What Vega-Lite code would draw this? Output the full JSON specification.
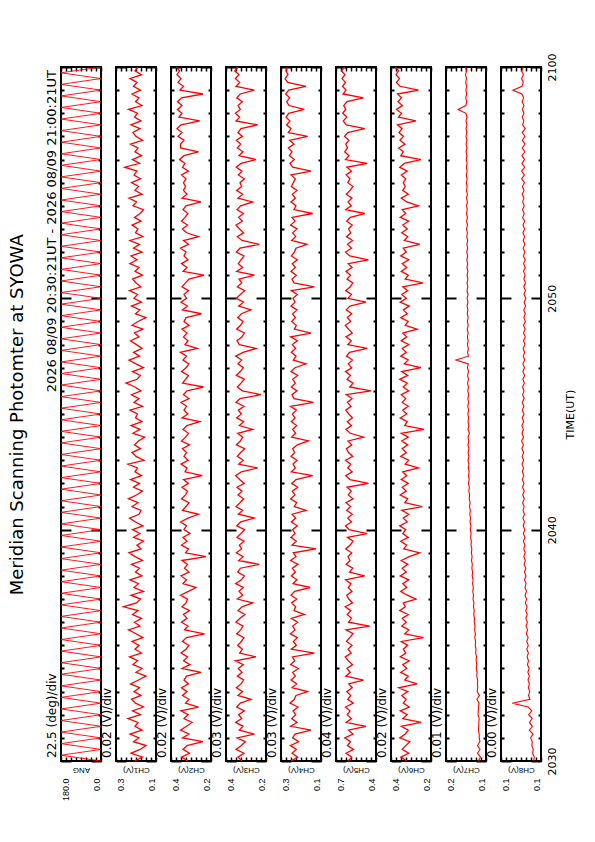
{
"$schema": "https://vega.github.io/schema/vega-lite/v6.json",
"background": "white",
"padding": {"left": 8, "top": 52, "right": 5, "bottom": 5},
"title": {"text": "Meridian Scanning Photomter at SYOWA", "orient": "left", "anchor": "middle", "font": "DejaVu Sans", "fontSize": 18, "fontWeight": "normal", "color": "black", "offset": 18, "dx": 12},
"bounds": "flush",
"spacing": 15,
"datasets": {
"ang": [{"s":0,"a":0},{"s":15,"a":180},{"s":30,"a":0},{"s":45,"a":180},{"s":60,"a":0},{"s":75,"a":180},{"s":90,"a":0},{"s":105,"a":180},{"s":120,"a":0},{"s":135,"a":180},{"s":150,"a":0},{"s":165,"a":180},{"s":180,"a":0},{"s":195,"a":180},{"s":210,"a":0},{"s":225,"a":180},{"s":240,"a":0},{"s":255,"a":180},{"s":270,"a":0},{"s":285,"a":180},{"s":300,"a":0},{"s":315,"a":180},{"s":330,"a":0},{"s":345,"a":180},{"s":360,"a":0},{"s":375,"a":180},{"s":390,"a":0},{"s":405,"a":180},{"s":420,"a":0},{"s":435,"a":180},{"s":450,"a":0},{"s":465,"a":180},{"s":480,"a":0},{"s":495,"a":180},{"s":510,"a":0},{"s":525,"a":180},{"s":540,"a":0},{"s":555,"a":180},{"s":570,"a":0},{"s":585,"a":180},{"s":600,"a":0},{"s":615,"a":180},{"s":630,"a":0},{"s":645,"a":180},{"s":660,"a":0},{"s":675,"a":180},{"s":690,"a":0},{"s":705,"a":180},{"s":720,"a":0},{"s":735,"a":180},{"s":750,"a":0},{"s":765,"a":180},{"s":780,"a":0},{"s":795,"a":180},{"s":810,"a":0},{"s":825,"a":180},{"s":840,"a":0},{"s":855,"a":180},{"s":870,"a":0},{"s":885,"a":180},{"s":900,"a":0},{"s":915,"a":180},{"s":930,"a":0},{"s":945,"a":180},{"s":960,"a":0},{"s":975,"a":180},{"s":990,"a":0},{"s":1005,"a":180},{"s":1020,"a":0},{"s":1035,"a":180},{"s":1050,"a":0},{"s":1065,"a":180},{"s":1080,"a":0},{"s":1095,"a":180},{"s":1110,"a":0},{"s":1125,"a":180},{"s":1140,"a":0},{"s":1155,"a":180},{"s":1170,"a":0},{"s":1185,"a":180},{"s":1200,"a":0},{"s":1215,"a":180},{"s":1230,"a":0},{"s":1245,"a":180},{"s":1260,"a":0},{"s":1275,"a":180},{"s":1290,"a":0},{"s":1305,"a":180},{"s":1320,"a":0},{"s":1335,"a":180},{"s":1350,"a":0},{"s":1365,"a":180},{"s":1380,"a":0},{"s":1395,"a":180},{"s":1410,"a":0},{"s":1425,"a":180},{"s":1440,"a":0},{"s":1455,"a":180},{"s":1470,"a":0},{"s":1485,"a":180},{"s":1500,"a":0},{"s":1515,"a":180},{"s":1530,"a":0},{"s":1545,"a":180},{"s":1560,"a":0},{"s":1575,"a":180},{"s":1590,"a":0},{"s":1605,"a":180},{"s":1620,"a":0},{"s":1635,"a":180},{"s":1650,"a":0},{"s":1665,"a":180},{"s":1680,"a":0},{"s":1695,"a":180},{"s":1710,"a":0},{"s":1725,"a":180},{"s":1740,"a":0},{"s":1755,"a":180},{"s":1770,"a":0},{"s":1785,"a":180},{"s":1800,"a":0}],
"ch": [
{"s":0,"c1":0.186,"c2":0.292,"c3":0.344,"c4":0.278,"c5":0.624,"c6":0.297,"c7":0.1155,"c8":0.1058},
{"s":10,"c1":0.154,"c2":0.318,"c3":0.368,"c4":0.240,"c5":0.594,"c6":0.321,"c7":0.1110,"c8":0.1054},
{"s":20,"c1":0.200,"c2":0.286,"c3":0.332,"c4":0.274,"c5":0.640,"c6":0.289,"c7":0.1170,"c8":0.1068},
{"s":30,"c1":0.164,"c2":0.312,"c3":0.380,"c4":0.248,"c5":0.580,"c6":0.315,"c7":0.1119,"c8":0.1062},
{"s":40,"c1":0.140,"c2":0.296,"c3":0.348,"c4":0.284,"c5":0.628,"c6":0.301,"c7":0.1170,"c8":0.1073},
{"s":50,"c1":0.190,"c2":0.232,"c3":0.324,"c4":0.234,"c5":0.604,"c6":0.285,"c7":0.1122,"c8":0.1070},
{"s":60,"c1":0.168,"c2":0.314,"c3":0.374,"c4":0.270,"c5":0.650,"c6":0.325,"c7":0.1135,"c8":0.1083},
{"s":70,"c1":0.204,"c2":0.288,"c3":0.270,"c4":0.256,"c5":0.584,"c6":0.303,"c7":0.1136,"c8":0.1063},
{"s":80,"c1":0.156,"c2":0.322,"c3":0.360,"c4":0.160,"c5":0.620,"c6":0.291,"c7":0.1152,"c8":0.1093},
{"s":90,"c1":0.184,"c2":0.298,"c3":0.338,"c4":0.282,"c5":0.480,"c6":0.319,"c7":0.1145,"c8":0.1069},
{"s":100,"c1":0.172,"c2":0.276,"c3":0.382,"c4":0.244,"c5":0.638,"c6":0.240,"c7":0.1144,"c8":0.1092},
{"s":110,"c1":0.212,"c2":0.308,"c3":0.346,"c4":0.276,"c5":0.596,"c6":0.313,"c7":0.1136,"c8":0.1070},
{"s":120,"c1":0.162,"c2":0.292,"c3":0.364,"c4":0.252,"c5":0.630,"c6":0.295,"c7":0.1159,"c8":0.1099},
{"s":130,"c1":0.194,"c2":0.320,"c3":0.330,"c4":0.268,"c5":0.608,"c6":0.323,"c7":0.1154,"c8":0.1074},
{"s":140,"c1":0.150,"c2":0.250,"c3":0.376,"c4":0.238,"c5":0.644,"c6":0.287,"c7":0.1150,"c8":0.1102},
{"s":150,"c1":0.182,"c2":0.302,"c3":0.354,"c4":0.286,"c5":0.582,"c6":0.311,"c7":0.1140,"c8":0.1230},
{"s":160,"c1":0.198,"c2":0.288,"c3":0.290,"c4":0.260,"c5":0.626,"c6":0.299,"c7":0.1181,"c8":0.1089},
{"s":170,"c1":0.160,"c2":0.314,"c3":0.368,"c4":0.250,"c5":0.602,"c6":0.317,"c7":0.1130,"c8":0.1100},
{"s":180,"c1":0.188,"c2":0.296,"c3":0.340,"c4":0.180,"c5":0.634,"c6":0.293,"c7":0.1176,"c8":0.1090},
{"s":190,"c1":0.166,"c2":0.318,"c3":0.378,"c4":0.274,"c5":0.590,"c6":0.329,"c7":0.1166,"c8":0.1101},
{"s":200,"c1":0.202,"c2":0.290,"c3":0.350,"c4":0.246,"c5":0.618,"c6":0.255,"c7":0.1170,"c8":0.1093},
{"s":210,"c1":0.170,"c2":0.308,"c3":0.334,"c4":0.280,"c5":0.500,"c6":0.305,"c7":0.1168,"c8":0.1104},
{"s":220,"c1":0.140,"c2":0.298,"c3":0.372,"c4":0.254,"c5":0.642,"c6":0.291,"c7":0.1184,"c8":0.1093},
{"s":230,"c1":0.180,"c2":0.240,"c3":0.344,"c4":0.270,"c5":0.606,"c6":0.321,"c7":0.1179,"c8":0.1105},
{"s":240,"c1":0.156,"c2":0.316,"c3":0.366,"c4":0.236,"c5":0.632,"c6":0.297,"c7":0.1193,"c8":0.1095},
{"s":250,"c1":0.192,"c2":0.284,"c3":0.336,"c4":0.282,"c5":0.588,"c6":0.313,"c7":0.1184,"c8":0.1108},
{"s":260,"c1":0.174,"c2":0.310,"c3":0.384,"c4":0.258,"c5":0.622,"c6":0.287,"c7":0.1197,"c8":0.1100},
{"s":270,"c1":0.206,"c2":0.294,"c3":0.260,"c4":0.272,"c5":0.646,"c6":0.323,"c7":0.1190,"c8":0.1111},
{"s":280,"c1":0.158,"c2":0.320,"c3":0.358,"c4":0.140,"c5":0.598,"c6":0.301,"c7":0.1206,"c8":0.1101},
{"s":290,"c1":0.184,"c2":0.300,"c3":0.342,"c4":0.278,"c5":0.624,"c6":0.311,"c7":0.1200,"c8":0.1113},
{"s":300,"c1":0.168,"c2":0.288,"c3":0.370,"c4":0.248,"c5":0.592,"c6":0.293,"c7":0.1215,"c8":0.1102},
{"s":310,"c1":0.196,"c2":0.314,"c3":0.348,"c4":0.266,"c5":0.636,"c6":0.319,"c7":0.1208,"c8":0.1114},
{"s":320,"c1":0.152,"c2":0.298,"c3":0.332,"c4":0.242,"c5":0.610,"c6":0.230,"c7":0.1224,"c8":0.1103},
{"s":330,"c1":0.180,"c2":0.226,"c3":0.376,"c4":0.284,"c5":0.584,"c6":0.305,"c7":0.1213,"c8":0.1117},
{"s":340,"c1":0.210,"c2":0.306,"c3":0.352,"c4":0.256,"c5":0.640,"c6":0.289,"c7":0.1228,"c8":0.1108},
{"s":350,"c1":0.164,"c2":0.292,"c3":0.338,"c4":0.270,"c5":0.450,"c6":0.317,"c7":0.1219,"c8":0.1120},
{"s":360,"c1":0.186,"c2":0.318,"c3":0.380,"c4":0.240,"c5":0.620,"c6":0.299,"c7":0.1236,"c8":0.1109},
{"s":370,"c1":0.158,"c2":0.296,"c3":0.356,"c4":0.278,"c5":0.596,"c6":0.315,"c7":0.1230,"c8":0.1121},
{"s":380,"c1":0.194,"c2":0.310,"c3":0.326,"c4":0.200,"c5":0.630,"c6":0.291,"c7":0.1246,"c8":0.1110},
{"s":390,"c1":0.172,"c2":0.286,"c3":0.368,"c4":0.262,"c5":0.602,"c6":0.325,"c7":0.1235,"c8":0.1122},
{"s":400,"c1":0.230,"c2":0.316,"c3":0.344,"c4":0.252,"c5":0.646,"c6":0.303,"c7":0.1251,"c8":0.1111},
{"s":410,"c1":0.178,"c2":0.300,"c3":0.280,"c4":0.276,"c5":0.588,"c6":0.311,"c7":0.1241,"c8":0.1125},
{"s":420,"c1":0.162,"c2":0.294,"c3":0.372,"c4":0.246,"c5":0.618,"c6":0.260,"c7":0.1259,"c8":0.1115},
{"s":430,"c1":0.200,"c2":0.322,"c3":0.340,"c4":0.280,"c5":0.634,"c6":0.295,"c7":0.1250,"c8":0.1128},
{"s":440,"c1":0.150,"c2":0.290,"c3":0.362,"c4":0.258,"c5":0.592,"c6":0.321,"c7":0.1264,"c8":0.1116},
{"s":450,"c1":0.188,"c2":0.260,"c3":0.336,"c4":0.165,"c5":0.622,"c6":0.297,"c7":0.1253,"c8":0.1128},
{"s":460,"c1":0.170,"c2":0.312,"c3":0.382,"c4":0.268,"c5":0.600,"c6":0.313,"c7":0.1269,"c8":0.1120},
{"s":470,"c1":0.204,"c2":0.298,"c3":0.348,"c4":0.244,"c5":0.644,"c6":0.289,"c7":0.1258,"c8":0.1132},
{"s":480,"c1":0.156,"c2":0.320,"c3":0.330,"c4":0.278,"c5":0.490,"c6":0.323,"c7":0.1276,"c8":0.1120},
{"s":490,"c1":0.182,"c2":0.288,"c3":0.370,"c4":0.254,"c5":0.612,"c6":0.299,"c7":0.1268,"c8":0.1132},
{"s":500,"c1":0.166,"c2":0.306,"c3":0.354,"c4":0.272,"c5":0.586,"c6":0.315,"c7":0.1283,"c8":0.1121},
{"s":510,"c1":0.198,"c2":0.294,"c3":0.240,"c4":0.238,"c5":0.638,"c6":0.293,"c7":0.1273,"c8":0.1135},
{"s":520,"c1":0.154,"c2":0.316,"c3":0.364,"c4":0.282,"c5":0.608,"c6":0.319,"c7":0.1290,"c8":0.1125},
{"s":530,"c1":0.184,"c2":0.220,"c3":0.338,"c4":0.250,"c5":0.624,"c6":0.287,"c7":0.1278,"c8":0.1138},
{"s":540,"c1":0.208,"c2":0.302,"c3":0.378,"c4":0.266,"c5":0.594,"c6":0.245,"c7":0.1292,"c8":0.1126},
{"s":550,"c1":0.160,"c2":0.290,"c3":0.346,"c4":0.130,"c5":0.642,"c6":0.309,"c7":0.1283,"c8":0.1138},
{"s":560,"c1":0.176,"c2":0.318,"c3":0.360,"c4":0.274,"c5":0.606,"c6":0.297,"c7":0.1300,"c8":0.1129},
{"s":570,"c1":0.150,"c2":0.296,"c3":0.332,"c4":0.248,"c5":0.584,"c6":0.321,"c7":0.1293,"c8":0.1141},
{"s":580,"c1":0.190,"c2":0.312,"c3":0.374,"c4":0.280,"c5":0.628,"c6":0.291,"c7":0.1309,"c8":0.1129},
{"s":590,"c1":0.164,"c2":0.284,"c3":0.350,"c4":0.256,"c5":0.470,"c6":0.313,"c7":0.1297,"c8":0.1141},
{"s":600,"c1":0.194,"c2":0.308,"c3":0.328,"c4":0.270,"c5":0.616,"c6":0.301,"c7":0.1313,"c8":0.1129},
{"s":610,"c1":0.152,"c2":0.298,"c3":0.376,"c4":0.242,"c5":0.644,"c6":0.325,"c7":0.1302,"c8":0.1143},
{"s":620,"c1":0.182,"c2":0.322,"c3":0.352,"c4":0.278,"c5":0.596,"c6":0.295,"c7":0.1320,"c8":0.1132},
{"s":630,"c1":0.206,"c2":0.292,"c3":0.270,"c4":0.252,"c5":0.626,"c6":0.311,"c7":0.1310,"c8":0.1145},
{"s":640,"c1":0.168,"c2":0.250,"c3":0.366,"c4":0.274,"c5":0.590,"c6":0.289,"c7":0.1324,"c8":0.1132},
{"s":650,"c1":0.160,"c2":0.314,"c3":0.340,"c4":0.190,"c5":0.634,"c6":0.317,"c7":0.1313,"c8":0.1144},
{"s":660,"c1":0.196,"c2":0.300,"c3":0.380,"c4":0.260,"c5":0.604,"c6":0.235,"c7":0.1329,"c8":0.1135},
{"s":670,"c1":0.172,"c2":0.288,"c3":0.356,"c4":0.246,"c5":0.640,"c6":0.305,"c7":0.1318,"c8":0.1147},
{"s":680,"c1":0.210,"c2":0.318,"c3":0.334,"c4":0.282,"c5":0.584,"c6":0.293,"c7":0.1336,"c8":0.1134},
{"s":690,"c1":0.178,"c2":0.302,"c3":0.368,"c4":0.256,"c5":0.622,"c6":0.323,"c7":0.1328,"c8":0.1146},
{"s":700,"c1":0.154,"c2":0.294,"c3":0.344,"c4":0.272,"c5":0.598,"c6":0.299,"c7":0.1343,"c8":0.1134},
{"s":710,"c1":0.190,"c2":0.316,"c3":0.374,"c4":0.240,"c5":0.632,"c6":0.315,"c7":0.1333,"c8":0.1148},
{"s":720,"c1":0.166,"c2":0.290,"c3":0.330,"c4":0.276,"c5":0.460,"c6":0.291,"c7":0.1350,"c8":0.1137},
{"s":730,"c1":0.202,"c2":0.310,"c3":0.358,"c4":0.250,"c5":0.608,"c6":0.319,"c7":0.1336,"c8":0.1150},
{"s":740,"c1":0.158,"c2":0.235,"c3":0.382,"c4":0.150,"c5":0.642,"c6":0.297,"c7":0.1350,"c8":0.1137},
{"s":750,"c1":0.184,"c2":0.304,"c3":0.348,"c4":0.278,"c5":0.590,"c6":0.313,"c7":0.1337,"c8":0.1149},
{"s":760,"c1":0.174,"c2":0.296,"c3":0.250,"c4":0.254,"c5":0.626,"c6":0.250,"c7":0.1354,"c8":0.1140},
{"s":770,"c1":0.212,"c2":0.320,"c3":0.364,"c4":0.268,"c5":0.602,"c6":0.303,"c7":0.1343,"c8":0.1152},
{"s":780,"c1":0.148,"c2":0.292,"c3":0.336,"c4":0.244,"c5":0.644,"c6":0.289,"c7":0.1359,"c8":0.1139},
{"s":790,"c1":0.180,"c2":0.308,"c3":0.372,"c4":0.280,"c5":0.586,"c6":0.321,"c7":0.1342,"c8":0.1151},
{"s":800,"c1":0.196,"c2":0.298,"c3":0.352,"c4":0.258,"c5":0.620,"c6":0.299,"c7":0.1358,"c8":0.1138},
{"s":810,"c1":0.162,"c2":0.314,"c3":0.328,"c4":0.270,"c5":0.636,"c6":0.315,"c7":0.1342,"c8":0.1153},
{"s":820,"c1":0.186,"c2":0.286,"c3":0.378,"c4":0.242,"c5":0.594,"c6":0.293,"c7":0.1360,"c8":0.1141},
{"s":830,"c1":0.170,"c2":0.318,"c3":0.354,"c4":0.175,"c5":0.624,"c6":0.317,"c7":0.1345,"c8":0.1155},
{"s":840,"c1":0.145,"c2":0.302,"c3":0.340,"c4":0.276,"c5":0.499,"c6":0.291,"c7":0.1359,"c8":0.1140},
{"s":850,"c1":0.192,"c2":0.290,"c3":0.370,"c4":0.252,"c5":0.606,"c6":0.319,"c7":0.1331,"c8":0.1152},
{"s":860,"c1":0.164,"c2":0.312,"c3":0.280,"c4":0.270,"c5":0.640,"c6":0.228,"c7":0.1359,"c8":0.1141},
{"s":870,"c1":0.200,"c2":0.296,"c3":0.360,"c4":0.246,"c5":0.596,"c6":0.305,"c7":0.1342,"c8":0.1153},
{"s":880,"c1":0.156,"c2":0.245,"c3":0.334,"c4":0.278,"c5":0.630,"c6":0.295,"c7":0.1361,"c8":0.1138},
{"s":890,"c1":0.182,"c2":0.316,"c3":0.376,"c4":0.256,"c5":0.588,"c6":0.323,"c7":0.1347,"c8":0.1150},
{"s":900,"c1":0.174,"c2":0.292,"c3":0.348,"c4":0.272,"c5":0.618,"c6":0.297,"c7":0.1363,"c8":0.1136},
{"s":910,"c1":0.204,"c2":0.308,"c3":0.366,"c4":0.248,"c5":0.642,"c6":0.313,"c7":0.1347,"c8":0.1150},
{"s":920,"c1":0.154,"c2":0.298,"c3":0.332,"c4":0.282,"c5":0.600,"c6":0.291,"c7":0.1365,"c8":0.1137},
{"s":930,"c1":0.188,"c2":0.320,"c3":0.380,"c4":0.145,"c5":0.628,"c6":0.315,"c7":0.1347,"c8":0.1150},
{"s":940,"c1":0.168,"c2":0.288,"c3":0.356,"c4":0.262,"c5":0.592,"c6":0.301,"c7":0.1362,"c8":0.1135},
{"s":950,"c1":0.198,"c2":0.310,"c3":0.230,"c4":0.274,"c5":0.638,"c6":0.319,"c7":0.1347,"c8":0.1147},
{"s":960,"c1":0.160,"c2":0.296,"c3":0.342,"c4":0.244,"c5":0.440,"c6":0.289,"c7":0.1365,"c8":0.1136},
{"s":970,"c1":0.184,"c2":0.230,"c3":0.372,"c4":0.278,"c5":0.610,"c6":0.311,"c7":0.1352,"c8":0.1148},
{"s":980,"c1":0.220,"c2":0.314,"c3":0.350,"c4":0.254,"c5":0.584,"c6":0.295,"c7":0.1369,"c8":0.1133},
{"s":990,"c1":0.176,"c2":0.302,"c3":0.330,"c4":0.270,"c5":0.632,"c6":0.325,"c7":0.1351,"c8":0.1145},
{"s":1000,"c1":0.162,"c2":0.290,"c3":0.378,"c4":0.240,"c5":0.604,"c6":0.293,"c7":0.1368,"c8":0.1131},
{"s":1010,"c1":0.194,"c2":0.318,"c3":0.354,"c4":0.280,"c5":0.644,"c6":0.317,"c7":0.1351,"c8":0.1145},
{"s":1020,"c1":0.150,"c2":0.300,"c3":0.336,"c4":0.256,"c5":0.594,"c6":0.240,"c7":0.1370,"c8":0.1132},
{"s":1030,"c1":0.180,"c2":0.288,"c3":0.368,"c4":0.190,"c5":0.622,"c6":0.307,"c7":0.1354,"c8":0.1145},
{"s":1040,"c1":0.208,"c2":0.312,"c3":0.346,"c4":0.266,"c5":0.588,"c6":0.291,"c7":0.1600,"c8":0.1130},
{"s":1050,"c1":0.166,"c2":0.298,"c3":0.382,"c4":0.250,"c5":0.636,"c6":0.321,"c7":0.1352,"c8":0.1142},
{"s":1060,"c1":0.190,"c2":0.322,"c3":0.338,"c4":0.278,"c5":0.612,"c6":0.299,"c7":0.1369,"c8":0.1131},
{"s":1070,"c1":0.156,"c2":0.255,"c3":0.260,"c4":0.252,"c5":0.470,"c6":0.315,"c7":0.1352,"c8":0.1143},
{"s":1080,"c1":0.178,"c2":0.304,"c3":0.360,"c4":0.272,"c5":0.626,"c6":0.289,"c7":0.1371,"c8":0.1128},
{"s":1090,"c1":0.202,"c2":0.292,"c3":0.374,"c4":0.242,"c5":0.598,"c6":0.319,"c7":0.1357,"c8":0.1140},
{"s":1100,"c1":0.168,"c2":0.310,"c3":0.344,"c4":0.282,"c5":0.640,"c6":0.297,"c7":0.1373,"c8":0.1126},
{"s":1110,"c1":0.186,"c2":0.296,"c3":0.330,"c4":0.160,"c5":0.590,"c6":0.313,"c7":0.1357,"c8":0.1140},
{"s":1120,"c1":0.152,"c2":0.316,"c3":0.376,"c4":0.260,"c5":0.620,"c6":0.255,"c7":0.1375,"c8":0.1127},
{"s":1130,"c1":0.196,"c2":0.288,"c3":0.352,"c4":0.248,"c5":0.646,"c6":0.303,"c7":0.1357,"c8":0.1140},
{"s":1140,"c1":0.172,"c2":0.308,"c3":0.338,"c4":0.276,"c5":0.602,"c6":0.291,"c7":0.1372,"c8":0.1125},
{"s":1150,"c1":0.140,"c2":0.300,"c3":0.370,"c4":0.254,"c5":0.630,"c6":0.321,"c7":0.1357,"c8":0.1137},
{"s":1160,"c1":0.182,"c2":0.238,"c3":0.348,"c4":0.270,"c5":0.594,"c6":0.295,"c7":0.1375,"c8":0.1126},
{"s":1170,"c1":0.164,"c2":0.314,"c3":0.290,"c4":0.244,"c5":0.638,"c6":0.311,"c7":0.1362,"c8":0.1138},
{"s":1180,"c1":0.198,"c2":0.294,"c3":0.364,"c4":0.280,"c5":0.608,"c6":0.287,"c7":0.1379,"c8":0.1123},
{"s":1190,"c1":0.158,"c2":0.320,"c3":0.334,"c4":0.256,"c5":0.480,"c6":0.323,"c7":0.1361,"c8":0.1135},
{"s":1200,"c1":0.188,"c2":0.298,"c3":0.378,"c4":0.268,"c5":0.624,"c6":0.299,"c7":0.1378,"c8":0.1121},
{"s":1210,"c1":0.174,"c2":0.308,"c3":0.354,"c4":0.242,"c5":0.596,"c6":0.317,"c7":0.1361,"c8":0.1136},
{"s":1220,"c1":0.206,"c2":0.290,"c3":0.328,"c4":0.278,"c5":0.642,"c6":0.293,"c7":0.1380,"c8":0.1124},
{"s":1230,"c1":0.160,"c2":0.316,"c3":0.372,"c4":0.140,"c5":0.606,"c6":0.313,"c7":0.1364,"c8":0.1138},
{"s":1240,"c1":0.180,"c2":0.302,"c3":0.346,"c4":0.262,"c5":0.586,"c6":0.232,"c7":0.1379,"c8":0.1124},
{"s":1250,"c1":0.194,"c2":0.288,"c3":0.362,"c4":0.274,"c5":0.632,"c6":0.303,"c7":0.1362,"c8":0.1137},
{"s":1260,"c1":0.154,"c2":0.228,"c3":0.270,"c4":0.248,"c5":0.604,"c6":0.291,"c7":0.1379,"c8":0.1127},
{"s":1270,"c1":0.184,"c2":0.312,"c3":0.376,"c4":0.280,"c5":0.640,"c6":0.319,"c7":0.1362,"c8":0.1140},
{"s":1280,"c1":0.168,"c2":0.296,"c3":0.340,"c4":0.254,"c5":0.592,"c6":0.297,"c7":0.1381,"c8":0.1126},
{"s":1290,"c1":0.205,"c2":0.318,"c3":0.366,"c4":0.272,"c5":0.622,"c6":0.315,"c7":0.1367,"c8":0.1139},
{"s":1300,"c1":0.176,"c2":0.292,"c3":0.350,"c4":0.242,"c5":0.460,"c6":0.289,"c7":0.1383,"c8":0.1126},
{"s":1310,"c1":0.200,"c2":0.308,"c3":0.332,"c4":0.278,"c5":0.610,"c6":0.321,"c7":0.1367,"c8":0.1141},
{"s":1320,"c1":0.156,"c2":0.300,"c3":0.378,"c4":0.260,"c5":0.644,"c6":0.299,"c7":0.1385,"c8":0.1129},
{"s":1330,"c1":0.190,"c2":0.322,"c3":0.356,"c4":0.250,"c5":0.596,"c6":0.311,"c7":0.1367,"c8":0.1143},
{"s":1340,"c1":0.166,"c2":0.290,"c3":0.240,"c4":0.185,"c5":0.628,"c6":0.245,"c7":0.1382,"c8":0.1129},
{"s":1350,"c1":0.204,"c2":0.310,"c3":0.344,"c4":0.276,"c5":0.588,"c6":0.307,"c7":0.1367,"c8":0.1142},
{"s":1360,"c1":0.152,"c2":0.250,"c3":0.372,"c4":0.252,"c5":0.636,"c6":0.293,"c7":0.1385,"c8":0.1132},
{"s":1370,"c1":0.182,"c2":0.298,"c3":0.334,"c4":0.270,"c5":0.602,"c6":0.317,"c7":0.1372,"c8":0.1145},
{"s":1380,"c1":0.172,"c2":0.314,"c3":0.358,"c4":0.244,"c5":0.620,"c6":0.295,"c7":0.1389,"c8":0.1131},
{"s":1390,"c1":0.196,"c2":0.294,"c3":0.380,"c4":0.282,"c5":0.590,"c6":0.313,"c7":0.1371,"c8":0.1144},
{"s":1400,"c1":0.160,"c2":0.318,"c3":0.342,"c4":0.256,"c5":0.634,"c6":0.289,"c7":0.1388,"c8":0.1131},
{"s":1410,"c1":0.186,"c2":0.304,"c3":0.364,"c4":0.274,"c5":0.606,"c6":0.323,"c7":0.1371,"c8":0.1146},
{"s":1420,"c1":0.164,"c2":0.292,"c3":0.336,"c4":0.150,"c5":0.490,"c6":0.301,"c7":0.1390,"c8":0.1134},
{"s":1430,"c1":0.150,"c2":0.312,"c3":0.374,"c4":0.262,"c5":0.642,"c6":0.315,"c7":0.1374,"c8":0.1148},
{"s":1440,"c1":0.192,"c2":0.300,"c3":0.352,"c4":0.250,"c5":0.598,"c6":0.250,"c7":0.1389,"c8":0.1134},
{"s":1450,"c1":0.178,"c2":0.240,"c3":0.280,"c4":0.280,"c5":0.624,"c6":0.297,"c7":0.1372,"c8":0.1147},
{"s":1460,"c1":0.208,"c2":0.316,"c3":0.368,"c4":0.254,"c5":0.592,"c6":0.319,"c7":0.1389,"c8":0.1137},
{"s":1470,"c1":0.156,"c2":0.296,"c3":0.340,"c4":0.272,"c5":0.638,"c6":0.291,"c7":0.1372,"c8":0.1150},
{"s":1480,"c1":0.184,"c2":0.310,"c3":0.376,"c4":0.244,"c5":0.608,"c6":0.313,"c7":0.1391,"c8":0.1136},
{"s":1490,"c1":0.170,"c2":0.302,"c3":0.346,"c4":0.278,"c5":0.584,"c6":0.303,"c7":0.1377,"c8":0.1149},
{"s":1500,"c1":0.198,"c2":0.310,"c3":0.356,"c4":0.266,"c5":0.626,"c6":0.311,"c7":0.1393,"c8":0.1132},
{"s":1510,"c1":0.162,"c2":0.300,"c3":0.330,"c4":0.254,"c5":0.608,"c6":0.301,"c7":0.1377,"c8":0.1155},
{"s":1520,"c1":0.188,"c2":0.318,"c3":0.366,"c4":0.280,"c5":0.638,"c6":0.319,"c7":0.1395,"c8":0.1133},
{"s":1530,"c1":0.176,"c2":0.290,"c3":0.344,"c4":0.160,"c5":0.596,"c6":0.295,"c7":0.1377,"c8":0.1155},
{"s":1540,"c1":0.225,"c2":0.314,"c3":0.378,"c4":0.270,"c5":0.634,"c6":0.325,"c7":0.1392,"c8":0.1131},
{"s":1550,"c1":0.166,"c2":0.304,"c3":0.350,"c4":0.286,"c5":0.470,"c6":0.307,"c7":0.1377,"c8":0.1152},
{"s":1560,"c1":0.194,"c2":0.326,"c3":0.260,"c4":0.260,"c5":0.644,"c6":0.240,"c7":0.1395,"c8":0.1132},
{"s":1570,"c1":0.158,"c2":0.308,"c3":0.362,"c4":0.290,"c5":0.616,"c6":0.321,"c7":0.1382,"c8":0.1153},
{"s":1580,"c1":0.184,"c2":0.250,"c3":0.338,"c4":0.274,"c5":0.650,"c6":0.311,"c7":0.1399,"c8":0.1129},
{"s":1590,"c1":0.172,"c2":0.322,"c3":0.372,"c4":0.296,"c5":0.628,"c6":0.329,"c7":0.1381,"c8":0.1150},
{"s":1600,"c1":0.202,"c2":0.322,"c3":0.352,"c4":0.262,"c5":0.642,"c6":0.304,"c7":0.1398,"c8":0.1127},
{"s":1610,"c1":0.154,"c2":0.308,"c3":0.378,"c4":0.288,"c5":0.616,"c6":0.324,"c7":0.1381,"c8":0.1150},
{"s":1620,"c1":0.180,"c2":0.332,"c3":0.342,"c4":0.180,"c5":0.652,"c6":0.310,"c7":0.1400,"c8":0.1128},
{"s":1630,"c1":0.192,"c2":0.316,"c3":0.368,"c4":0.296,"c5":0.626,"c6":0.328,"c7":0.1384,"c8":0.1150},
{"s":1640,"c1":0.164,"c2":0.336,"c3":0.350,"c4":0.280,"c5":0.490,"c6":0.316,"c7":0.1399,"c8":0.1126},
{"s":1650,"c1":0.200,"c2":0.320,"c3":0.250,"c4":0.306,"c5":0.638,"c6":0.334,"c7":0.1382,"c8":0.1147},
{"s":1660,"c1":0.160,"c2":0.245,"c3":0.380,"c4":0.286,"c5":0.662,"c6":0.260,"c7":0.1399,"c8":0.1137},
{"s":1670,"c1":0.186,"c2":0.328,"c3":0.358,"c4":0.310,"c5":0.634,"c6":0.330,"c7":0.1382,"c8":0.1150},
{"s":1680,"c1":0.174,"c2":0.316,"c3":0.384,"c4":0.294,"c5":0.666,"c6":0.318,"c7":0.1401,"c8":0.1136},
{"s":1690,"c1":0.210,"c2":0.334,"c3":0.354,"c4":0.200,"c5":0.642,"c6":0.338,"c7":0.1560,"c8":0.1149},
{"s":1700,"c1":0.156,"c2":0.316,"c3":0.368,"c4":0.292,"c5":0.658,"c6":0.314,"c7":0.1403,"c8":0.1136},
{"s":1710,"c1":0.182,"c2":0.334,"c3":0.342,"c4":0.306,"c5":0.632,"c6":0.332,"c7":0.1386,"c8":0.1151},
{"s":1720,"c1":0.168,"c2":0.318,"c3":0.376,"c4":0.288,"c5":0.500,"c6":0.318,"c7":0.1405,"c8":0.1139},
{"s":1730,"c1":0.196,"c2":0.232,"c3":0.354,"c4":0.312,"c5":0.664,"c6":0.334,"c7":0.1386,"c8":0.1153},
{"s":1740,"c1":0.162,"c2":0.324,"c3":0.270,"c4":0.294,"c5":0.640,"c6":0.250,"c7":0.1402,"c8":0.1225},
{"s":1750,"c1":0.190,"c2":0.310,"c3":0.380,"c4":0.190,"c5":0.668,"c6":0.324,"c7":0.1386,"c8":0.1152},
{"s":1760,"c1":0.176,"c2":0.332,"c3":0.358,"c4":0.300,"c5":0.644,"c6":0.338,"c7":0.1405,"c8":0.1142},
{"s":1770,"c1":0.204,"c2":0.320,"c3":0.384,"c4":0.316,"c5":0.672,"c6":0.326,"c7":0.1391,"c8":0.1155},
{"s":1780,"c1":0.158,"c2":0.336,"c3":0.362,"c4":0.298,"c5":0.648,"c6":0.340,"c7":0.1409,"c8":0.1141},
{"s":1790,"c1":0.184,"c2":0.326,"c3":0.388,"c4":0.310,"c5":0.676,"c6":0.330,"c7":0.1390,"c8":0.1154},
{"s":1800,"c1":0.172,"c2":0.338,"c3":0.368,"c4":0.304,"c5":0.652,"c6":0.342,"c7":0.1408,"c8":0.1141}
]
},
"hconcat": [
{"width":40,"height":694,"layer":[
 {"data":{"name":"ang"},"mark":{"type":"line","color":"#ff0000","strokeWidth":0.9,"clip":true},"encoding":{
  "order":{"field":"s","type":"quantitative"},
  "x":{"field":"a","type":"quantitative","scale":{"domain":[0,180],"reverse":true,"nice":false,"zero":false},"axis":{"orient":"bottom","values":[0,22.5,45,67.5,90,112.5,135,157.5,180],"labelExpr":"datum.value == 180 || datum.value == 0 ? format(datum.value, '.1f') : ''","labelBaseline":{"condition":{"test":"datum.value == 180","value":"top"},"value":"bottom"},"title":"ANG","titleY":4}},
  "y":{"field":"s","type":"quantitative","scale":{"domain":[0,1800],"nice":false,"zero":false},"axis":{"orient":"left","title":null,"values":[0,60,120,180,240,300,360,420,480,540,600,660,720,780,840,900,960,1020,1080,1140,1200,1260,1320,1380,1440,1500,1560,1620,1680,1740,1800],"tickSize":{"condition":{"test":"datum.value % 600 == 0","value":-10},"value":-3}}}}},
 {"data":{"values":[{"lab":"22.5 (deg)/div"}]},"mark":{"type":"text","angle":270,"align":"left","baseline":"bottom","dx":3,"dy":-2,"font":"DejaVu Sans","fontSize":12,"color":"black"},"encoding":{"text":{"field":"lab"},
  "x":{"datum":180,"axis":{"orient":"top","title":null,"values":[0,22.5,45,67.5,90,112.5,135,157.5,180]}},
  "y":{"datum":0,"axis":{"orient":"right","title":null,"values":[0,60,120,180,240,300,360,420,480,540,600,660,720,780,840,900,960,1020,1080,1140,1200,1260,1320,1380,1440,1500,1560,1620,1680,1740,1800],"tickSize":{"condition":{"test":"datum.value % 600 == 0","value":-10},"value":-3}}}}},
 {"data":{"values":[{"lab":"2026 08/09 20:30:21UT - 2026 08/09 21:00:21UT"}]},"mark":{"type":"text","angle":270,"align":"right","baseline":"bottom","dx":-3,"dy":-2,"font":"DejaVu Sans","fontSize":13,"color":"black"},"encoding":{"text":{"field":"lab"},"x":{"datum":180,"axis":null},"y":{"datum":1800,"axis":null}}}
],"resolve":{"axis":{"x":"independent","y":"independent"}}},
{"width":40,"height":694,"layer":[
 {"data":{"name":"ch"},"mark":{"type":"line","color":"#ff0000","strokeWidth":1.3,"clip":true},"encoding":{
  "order":{"field":"s","type":"quantitative"},
  "x":{"field":"c1","type":"quantitative","scale":{"domain":[0.1,0.26],"reverse":true,"nice":false,"zero":false},"axis":{"orient":"bottom","values":[0.1,0.12,0.14,0.16,0.18,0.2,0.22,0.24,0.26],"labelExpr":"datum.value == 0.26 || datum.value == 0.1 ? format(datum.value, '.1f') : ''","labelBaseline":{"condition":{"test":"datum.value == 0.26","value":"top"},"value":"bottom"},"title":"CH1(V)","titleY":4}},
  "y":{"field":"s","type":"quantitative","scale":{"domain":[0,1800],"nice":false,"zero":false},"axis":{"orient":"left","title":null,"values":[0,60,120,180,240,300,360,420,480,540,600,660,720,780,840,900,960,1020,1080,1140,1200,1260,1320,1380,1440,1500,1560,1620,1680,1740,1800],"tickSize":{"condition":{"test":"datum.value % 600 == 0","value":-10},"value":-3}}}}},
 {"data":{"values":[{"lab":"0.02 (V)/div"}]},"mark":{"type":"text","angle":270,"align":"left","baseline":"bottom","dx":3,"dy":-2,"font":"DejaVu Sans","fontSize":12,"color":"black"},"encoding":{"text":{"field":"lab"},
  "x":{"datum":0.26,"axis":{"orient":"top","title":null,"values":[0.1,0.12,0.14,0.16,0.18,0.2,0.22,0.24,0.26]}},
  "y":{"datum":0,"axis":{"orient":"right","title":null,"values":[0,60,120,180,240,300,360,420,480,540,600,660,720,780,840,900,960,1020,1080,1140,1200,1260,1320,1380,1440,1500,1560,1620,1680,1740,1800],"tickSize":{"condition":{"test":"datum.value % 600 == 0","value":-10},"value":-3}}}}}
],"resolve":{"axis":{"x":"independent","y":"independent"}}},
{"width":40,"height":694,"layer":[
 {"data":{"name":"ch"},"mark":{"type":"line","color":"#ff0000","strokeWidth":1.3,"clip":true},"encoding":{
  "order":{"field":"s","type":"quantitative"},
  "x":{"field":"c2","type":"quantitative","scale":{"domain":[0.2,0.36],"reverse":true,"nice":false,"zero":false},"axis":{"orient":"bottom","values":[0.2,0.22,0.24,0.26,0.28,0.3,0.32,0.34,0.36],"labelExpr":"datum.value == 0.36 || datum.value == 0.2 ? format(datum.value, '.1f') : ''","labelBaseline":{"condition":{"test":"datum.value == 0.36","value":"top"},"value":"bottom"},"title":"CH2(V)","titleY":4}},
  "y":{"field":"s","type":"quantitative","scale":{"domain":[0,1800],"nice":false,"zero":false},"axis":{"orient":"left","title":null,"values":[0,60,120,180,240,300,360,420,480,540,600,660,720,780,840,900,960,1020,1080,1140,1200,1260,1320,1380,1440,1500,1560,1620,1680,1740,1800],"tickSize":{"condition":{"test":"datum.value % 600 == 0","value":-10},"value":-3}}}}},
 {"data":{"values":[{"lab":"0.02 (V)/div"}]},"mark":{"type":"text","angle":270,"align":"left","baseline":"bottom","dx":3,"dy":-2,"font":"DejaVu Sans","fontSize":12,"color":"black"},"encoding":{"text":{"field":"lab"},
  "x":{"datum":0.36,"axis":{"orient":"top","title":null,"values":[0.2,0.22,0.24,0.26,0.28,0.3,0.32,0.34,0.36]}},
  "y":{"datum":0,"axis":{"orient":"right","title":null,"values":[0,60,120,180,240,300,360,420,480,540,600,660,720,780,840,900,960,1020,1080,1140,1200,1260,1320,1380,1440,1500,1560,1620,1680,1740,1800],"tickSize":{"condition":{"test":"datum.value % 600 == 0","value":-10},"value":-3}}}}}
],"resolve":{"axis":{"x":"independent","y":"independent"}}},
{"width":40,"height":694,"layer":[
 {"data":{"name":"ch"},"mark":{"type":"line","color":"#ff0000","strokeWidth":1.3,"clip":true},"encoding":{
  "order":{"field":"s","type":"quantitative"},
  "x":{"field":"c3","type":"quantitative","scale":{"domain":[0.2,0.44],"reverse":true,"nice":false,"zero":false},"axis":{"orient":"bottom","values":[0.2,0.23,0.26,0.29,0.32,0.35,0.38,0.41,0.44],"labelExpr":"datum.value == 0.44 || datum.value == 0.2 ? format(datum.value, '.1f') : ''","labelBaseline":{"condition":{"test":"datum.value == 0.44","value":"top"},"value":"bottom"},"title":"CH3(V)","titleY":4}},
  "y":{"field":"s","type":"quantitative","scale":{"domain":[0,1800],"nice":false,"zero":false},"axis":{"orient":"left","title":null,"values":[0,60,120,180,240,300,360,420,480,540,600,660,720,780,840,900,960,1020,1080,1140,1200,1260,1320,1380,1440,1500,1560,1620,1680,1740,1800],"tickSize":{"condition":{"test":"datum.value % 600 == 0","value":-10},"value":-3}}}}},
 {"data":{"values":[{"lab":"0.03 (V)/div"}]},"mark":{"type":"text","angle":270,"align":"left","baseline":"bottom","dx":3,"dy":-2,"font":"DejaVu Sans","fontSize":12,"color":"black"},"encoding":{"text":{"field":"lab"},
  "x":{"datum":0.44,"axis":{"orient":"top","title":null,"values":[0.2,0.23,0.26,0.29,0.32,0.35,0.38,0.41,0.44]}},
  "y":{"datum":0,"axis":{"orient":"right","title":null,"values":[0,60,120,180,240,300,360,420,480,540,600,660,720,780,840,900,960,1020,1080,1140,1200,1260,1320,1380,1440,1500,1560,1620,1680,1740,1800],"tickSize":{"condition":{"test":"datum.value % 600 == 0","value":-10},"value":-3}}}}}
],"resolve":{"axis":{"x":"independent","y":"independent"}}},
{"width":40,"height":694,"layer":[
 {"data":{"name":"ch"},"mark":{"type":"line","color":"#ff0000","strokeWidth":1.3,"clip":true},"encoding":{
  "order":{"field":"s","type":"quantitative"},
  "x":{"field":"c4","type":"quantitative","scale":{"domain":[0.1,0.34],"reverse":true,"nice":false,"zero":false},"axis":{"orient":"bottom","values":[0.1,0.13,0.16,0.19,0.22,0.25,0.28,0.31,0.34],"labelExpr":"datum.value == 0.34 || datum.value == 0.1 ? format(datum.value, '.1f') : ''","labelBaseline":{"condition":{"test":"datum.value == 0.34","value":"top"},"value":"bottom"},"title":"CH4(V)","titleY":4}},
  "y":{"field":"s","type":"quantitative","scale":{"domain":[0,1800],"nice":false,"zero":false},"axis":{"orient":"left","title":null,"values":[0,60,120,180,240,300,360,420,480,540,600,660,720,780,840,900,960,1020,1080,1140,1200,1260,1320,1380,1440,1500,1560,1620,1680,1740,1800],"tickSize":{"condition":{"test":"datum.value % 600 == 0","value":-10},"value":-3}}}}},
 {"data":{"values":[{"lab":"0.03 (V)/div"}]},"mark":{"type":"text","angle":270,"align":"left","baseline":"bottom","dx":3,"dy":-2,"font":"DejaVu Sans","fontSize":12,"color":"black"},"encoding":{"text":{"field":"lab"},
  "x":{"datum":0.34,"axis":{"orient":"top","title":null,"values":[0.1,0.13,0.16,0.19,0.22,0.25,0.28,0.31,0.34]}},
  "y":{"datum":0,"axis":{"orient":"right","title":null,"values":[0,60,120,180,240,300,360,420,480,540,600,660,720,780,840,900,960,1020,1080,1140,1200,1260,1320,1380,1440,1500,1560,1620,1680,1740,1800],"tickSize":{"condition":{"test":"datum.value % 600 == 0","value":-10},"value":-3}}}}}
],"resolve":{"axis":{"x":"independent","y":"independent"}}},
{"width":40,"height":694,"layer":[
 {"data":{"name":"ch"},"mark":{"type":"line","color":"#ff0000","strokeWidth":1.3,"clip":true},"encoding":{
  "order":{"field":"s","type":"quantitative"},
  "x":{"field":"c5","type":"quantitative","scale":{"domain":[0.4,0.72],"reverse":true,"nice":false,"zero":false},"axis":{"orient":"bottom","values":[0.4,0.44,0.48,0.52,0.56,0.6,0.64,0.68,0.72],"labelExpr":"datum.value == 0.72 || datum.value == 0.4 ? format(datum.value, '.1f') : ''","labelBaseline":{"condition":{"test":"datum.value == 0.72","value":"top"},"value":"bottom"},"title":"CH5(V)","titleY":4}},
  "y":{"field":"s","type":"quantitative","scale":{"domain":[0,1800],"nice":false,"zero":false},"axis":{"orient":"left","title":null,"values":[0,60,120,180,240,300,360,420,480,540,600,660,720,780,840,900,960,1020,1080,1140,1200,1260,1320,1380,1440,1500,1560,1620,1680,1740,1800],"tickSize":{"condition":{"test":"datum.value % 600 == 0","value":-10},"value":-3}}}}},
 {"data":{"values":[{"lab":"0.04 (V)/div"}]},"mark":{"type":"text","angle":270,"align":"left","baseline":"bottom","dx":3,"dy":-2,"font":"DejaVu Sans","fontSize":12,"color":"black"},"encoding":{"text":{"field":"lab"},
  "x":{"datum":0.72,"axis":{"orient":"top","title":null,"values":[0.4,0.44,0.48,0.52,0.56,0.6,0.64,0.68,0.72]}},
  "y":{"datum":0,"axis":{"orient":"right","title":null,"values":[0,60,120,180,240,300,360,420,480,540,600,660,720,780,840,900,960,1020,1080,1140,1200,1260,1320,1380,1440,1500,1560,1620,1680,1740,1800],"tickSize":{"condition":{"test":"datum.value % 600 == 0","value":-10},"value":-3}}}}}
],"resolve":{"axis":{"x":"independent","y":"independent"}}},
{"width":40,"height":694,"layer":[
 {"data":{"name":"ch"},"mark":{"type":"line","color":"#ff0000","strokeWidth":1.3,"clip":true},"encoding":{
  "order":{"field":"s","type":"quantitative"},
  "x":{"field":"c6","type":"quantitative","scale":{"domain":[0.2,0.36],"reverse":true,"nice":false,"zero":false},"axis":{"orient":"bottom","values":[0.2,0.22,0.24,0.26,0.28,0.3,0.32,0.34,0.36],"labelExpr":"datum.value == 0.36 || datum.value == 0.2 ? format(datum.value, '.1f') : ''","labelBaseline":{"condition":{"test":"datum.value == 0.36","value":"top"},"value":"bottom"},"title":"CH6(V)","titleY":4}},
  "y":{"field":"s","type":"quantitative","scale":{"domain":[0,1800],"nice":false,"zero":false},"axis":{"orient":"left","title":null,"values":[0,60,120,180,240,300,360,420,480,540,600,660,720,780,840,900,960,1020,1080,1140,1200,1260,1320,1380,1440,1500,1560,1620,1680,1740,1800],"tickSize":{"condition":{"test":"datum.value % 600 == 0","value":-10},"value":-3}}}}},
 {"data":{"values":[{"lab":"0.02 (V)/div"}]},"mark":{"type":"text","angle":270,"align":"left","baseline":"bottom","dx":3,"dy":-2,"font":"DejaVu Sans","fontSize":12,"color":"black"},"encoding":{"text":{"field":"lab"},
  "x":{"datum":0.36,"axis":{"orient":"top","title":null,"values":[0.2,0.22,0.24,0.26,0.28,0.3,0.32,0.34,0.36]}},
  "y":{"datum":0,"axis":{"orient":"right","title":null,"values":[0,60,120,180,240,300,360,420,480,540,600,660,720,780,840,900,960,1020,1080,1140,1200,1260,1320,1380,1440,1500,1560,1620,1680,1740,1800],"tickSize":{"condition":{"test":"datum.value % 600 == 0","value":-10},"value":-3}}}}}
],"resolve":{"axis":{"x":"independent","y":"independent"}}},
{"width":40,"height":694,"layer":[
 {"data":{"name":"ch"},"mark":{"type":"line","color":"#ff0000","strokeWidth":1.1,"clip":true},"encoding":{
  "order":{"field":"s","type":"quantitative"},
  "x":{"field":"c7","type":"quantitative","scale":{"domain":[0.1,0.18],"reverse":true,"nice":false,"zero":false},"axis":{"orient":"bottom","values":[0.1,0.11,0.12,0.13,0.14,0.15,0.16,0.17,0.18],"labelExpr":"datum.value == 0.18 || datum.value == 0.1 ? format(datum.value, '.1f') : ''","labelBaseline":{"condition":{"test":"datum.value == 0.18","value":"top"},"value":"bottom"},"title":"CH7(V)","titleY":4}},
  "y":{"field":"s","type":"quantitative","scale":{"domain":[0,1800],"nice":false,"zero":false},"axis":{"orient":"left","title":null,"values":[0,60,120,180,240,300,360,420,480,540,600,660,720,780,840,900,960,1020,1080,1140,1200,1260,1320,1380,1440,1500,1560,1620,1680,1740,1800],"tickSize":{"condition":{"test":"datum.value % 600 == 0","value":-10},"value":-3}}}}},
 {"data":{"values":[{"lab":"0.01 (V)/div"}]},"mark":{"type":"text","angle":270,"align":"left","baseline":"bottom","dx":3,"dy":-2,"font":"DejaVu Sans","fontSize":12,"color":"black"},"encoding":{"text":{"field":"lab"},
  "x":{"datum":0.18,"axis":{"orient":"top","title":null,"values":[0.1,0.11,0.12,0.13,0.14,0.15,0.16,0.17,0.18]}},
  "y":{"datum":0,"axis":{"orient":"right","title":null,"values":[0,60,120,180,240,300,360,420,480,540,600,660,720,780,840,900,960,1020,1080,1140,1200,1260,1320,1380,1440,1500,1560,1620,1680,1740,1800],"tickSize":{"condition":{"test":"datum.value % 600 == 0","value":-10},"value":-3}}}}}
],"resolve":{"axis":{"x":"independent","y":"independent"}}},
{"width":40,"height":694,"layer":[
 {"data":{"name":"ch"},"mark":{"type":"line","color":"#ff0000","strokeWidth":1.1,"clip":true},"encoding":{
  "order":{"field":"s","type":"quantitative"},
  "x":{"field":"c8","type":"quantitative","scale":{"domain":[0.1,0.132],"reverse":true,"nice":false,"zero":false},"axis":{"orient":"bottom","values":[0.1,0.104,0.108,0.112,0.116,0.12,0.124,0.128,0.132],"labelExpr":"datum.value == 0.132 || datum.value == 0.1 ? format(datum.value, '.1f') : ''","labelBaseline":{"condition":{"test":"datum.value == 0.132","value":"top"},"value":"bottom"},"title":"CH8(V)","titleY":4}},
  "y":{"field":"s","type":"quantitative","scale":{"domain":[0,1800],"nice":false,"zero":false},"axis":{"orient":"left","title":null,"values":[0,60,120,180,240,300,360,420,480,540,600,660,720,780,840,900,960,1020,1080,1140,1200,1260,1320,1380,1440,1500,1560,1620,1680,1740,1800],"tickSize":{"condition":{"test":"datum.value % 600 == 0","value":-10},"value":-3}}}}},
 {"data":{"values":[{"lab":"0.00 (V)/div"}]},"mark":{"type":"text","angle":270,"align":"left","baseline":"bottom","dx":3,"dy":-2,"font":"DejaVu Sans","fontSize":12,"color":"black"},"encoding":{"text":{"field":"lab"},
  "x":{"datum":0.132,"axis":{"orient":"top","title":null,"values":[0.1,0.104,0.108,0.112,0.116,0.12,0.124,0.128,0.132]}},
  "y":{"datum":0,"axis":{"orient":"right","values":[0,60,120,180,240,300,360,420,480,540,600,660,720,780,840,900,960,1020,1080,1140,1200,1260,1320,1380,1440,1500,1560,1620,1680,1740,1800],"tickSize":{"condition":{"test":"datum.value % 600 == 0","value":-10},"value":-3},"labels":true,"labelExpr":"datum.value == 0 ? '2030' : datum.value == 600 ? '2040' : datum.value == 1200 ? '2050' : datum.value == 1800 ? '2100' : ''","labelAngle":270,"labelAlign":"center","labelBaseline":"top","labelPadding":15,"labelFont":"DejaVu Sans","labelFontSize":11,"labelOverlap":false,"labelFlush":false,"labelBound":false,"title":"TIME(UT)","titleFont":"DejaVu Sans","titleFontSize":11,"titleAngle":270,"titleBaseline":"top","titlePadding":0}}}}
],"resolve":{"axis":{"x":"independent","y":"independent"}}}
],
"config": {
 "view": {"stroke": "black", "strokeWidth": 2},
 "axis": {"domain": false, "grid": false, "tickColor": "black", "labelColor": "black", "titleColor": "black", "titleFontWeight": "normal", "labelFont": "Liberation Sans", "titleFont": "Liberation Sans"},
 "axisBottom": {"tickSize": -4, "tickWidth": 1.5, "labelAngle": 270, "labelAlign": "right", "labelPadding": 21, "labelFlush": false, "labelOverlap": false, "labelBound": false, "labelFontSize": 9, "titleAngle": 180, "titleBaseline": "bottom", "titleFontSize": 8, "titlePadding": 0},
 "axisTop": {"tickSize": -4, "tickWidth": 1.5, "labels": false},
 "axisLeft": {"tickWidth": 2, "labels": false},
 "axisRight": {"tickWidth": 2, "labels": false}
}
}
